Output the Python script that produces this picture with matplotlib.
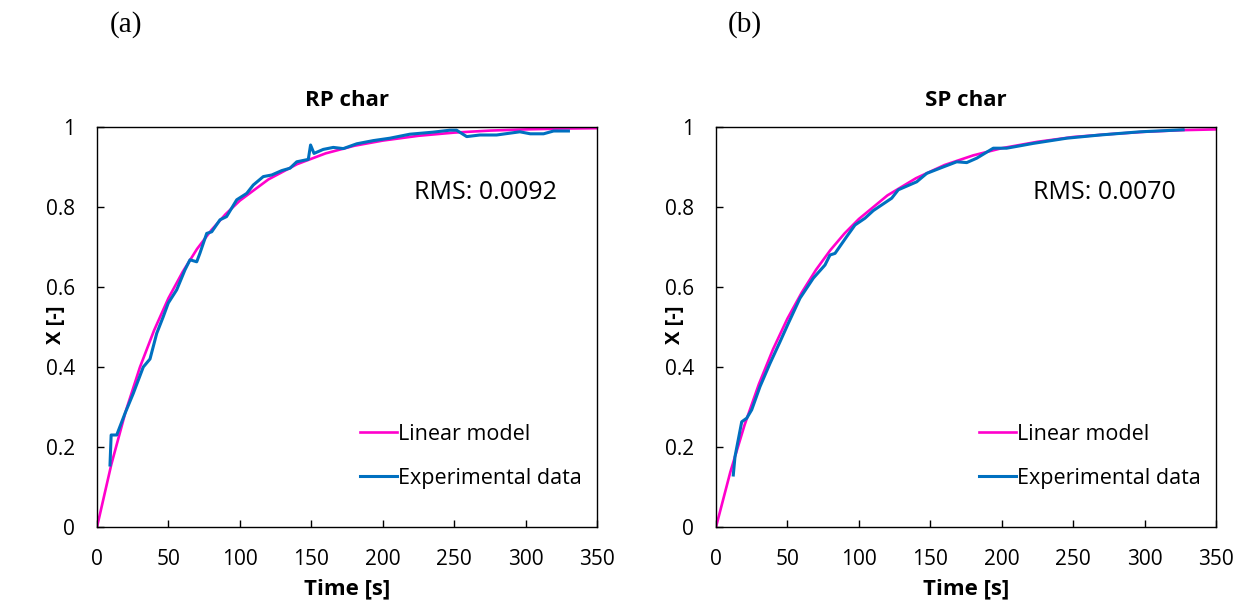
import numpy as np
import matplotlib.pyplot as plt

# Time grid for the fitted linear model curves [s]
model_t = [0, 10, 20, 30, 40, 50, 60, 70, 80, 90, 100, 120, 140, 160, 180,
           200, 225, 250, 275, 300, 325, 350]
# Linear model conversion, RP char
rp_model_x = [0.000, 0.156, 0.288, 0.399, 0.492, 0.572, 0.638, 0.695, 0.742,
              0.782, 0.816, 0.869, 0.907, 0.934, 0.953, 0.966, 0.978, 0.986,
              0.991, 0.994, 0.996, 0.997]
# Linear model conversion, SP char
sp_model_x = [0.000, 0.137, 0.255, 0.357, 0.445, 0.521, 0.586, 0.643, 0.692,
              0.734, 0.770, 0.829, 0.872, 0.905, 0.929, 0.947, 0.963, 0.975,
              0.982, 0.988, 0.992, 0.994]

# Experimental data, RP char
rp_exp_t = [9.1, 9.9, 13.8, 19.6, 25.4, 32.4, 37.1, 41.8, 46.4, 49.9, 55.8,
            61.6, 65.1, 69.8, 72.0, 76.8, 80.3, 86.1, 90.7, 97.8, 104.8,
            109.4, 116.4, 122.3, 129.3, 135.1, 139.8, 147.9, 149.5, 151.9,
            158.4, 165.4, 172.4, 181.8, 193.4, 205.0, 219.0, 235.0, 247.0,
            251.7, 258.8, 268.0, 279.7, 296.0, 303.3, 312.6, 319.6, 330.0]
rp_exp_x = [0.155, 0.230, 0.230, 0.284, 0.334, 0.400, 0.420, 0.484, 0.526,
            0.560, 0.593, 0.643, 0.668, 0.663, 0.684, 0.734, 0.738, 0.768,
            0.776, 0.818, 0.834, 0.855, 0.876, 0.880, 0.891, 0.897, 0.913,
            0.919, 0.955, 0.934, 0.944, 0.949, 0.946, 0.958, 0.966, 0.972,
            0.982, 0.987, 0.992, 0.992, 0.976, 0.980, 0.980, 0.988, 0.983,
            0.983, 0.990, 0.990]

# Experimental data, SP char
sp_exp_t = [12.1, 13.3, 18.0, 21.5, 25.0, 30.8, 37.8, 44.8, 50.6, 58.8, 68.1,
            76.3, 79.8, 83.3, 91.5, 97.3, 104.3, 110.1, 123.0, 127.6, 140.5,
            147.5, 156.8, 168.5, 175.5, 182.5, 194.1, 203.4, 212.8, 222.0,
            245.5, 268.8, 296.8, 327.0]
sp_exp_x = [0.130, 0.176, 0.263, 0.272, 0.293, 0.351, 0.409, 0.463, 0.509,
            0.572, 0.622, 0.655, 0.680, 0.684, 0.726, 0.755, 0.772, 0.791,
            0.822, 0.843, 0.863, 0.884, 0.897, 0.913, 0.911, 0.922, 0.947,
            0.947, 0.953, 0.959, 0.972, 0.980, 0.988, 0.993]

panels = [('(a)', 'RP char', 'RMS: 0.0092', rp_model_x, rp_exp_t, rp_exp_x),
          ('(b)', 'SP char', 'RMS: 0.0070', sp_model_x, sp_exp_t, sp_exp_x)]

plt.rcParams['font.family'] = ['Open Sans', 'DejaVu Sans']
fig = plt.figure(figsize=(12.44, 6.05), dpi=100)

lefts = [97 / 1244, 716 / 1244]
for left, (tag, title, rms, model_x, exp_t, exp_x) in zip(lefts, panels):
    ax = fig.add_axes([left, 78 / 605, 500 / 1244, 400 / 605])
    ax.plot(model_t, model_x, color='#ff00cc', lw=1.9, label='Linear model')
    ax.plot(exp_t, exp_x, color='#0070c0', lw=2.2, label='Experimental data')

    ax.set_xlim(0, 350)
    ax.set_ylim(0, 1)
    ax.set_xticks(np.arange(0, 351, 50))
    ax.set_yticks(np.arange(0, 1.01, 0.2))
    ax.set_yticklabels(['0', '0.2', '0.4', '0.6', '0.8', '1'])
    ax.tick_params(direction='in', length=5, width=1.0, labelsize=15)
    ax.tick_params(axis='x', pad=16)
    ax.tick_params(axis='y', pad=16)
    for s in ax.spines.values():
        s.set_linewidth(1.0)

    ax.set_title(title, fontsize=16, fontweight='bold', pad=15)
    ax.set_xlabel('Time [s]', fontsize=16, fontweight='bold', labelpad=6)
    ax.set_ylabel('X [-]', fontsize=14.5, fontweight='bold', va='center')
    ax.yaxis.set_label_coords(-0.082, 0.505)

    ax.text(0.776, 0.836, rms, transform=ax.transAxes, fontsize=18,
            ha='center', va='center')
    ax.legend(loc='lower left', bbox_to_anchor=(0.526, 0.095), frameon=False,
              fontsize=15.5, handlelength=1.72, handletextpad=0.05,
              labelspacing=1.08, borderpad=0, borderaxespad=0)

    fig.text(left + 29 / 1244, 1 - 25 / 605, tag, family='Liberation Serif',
             fontsize=21, ha='center', va='center')

fig.savefig('out.png', dpi=100)
